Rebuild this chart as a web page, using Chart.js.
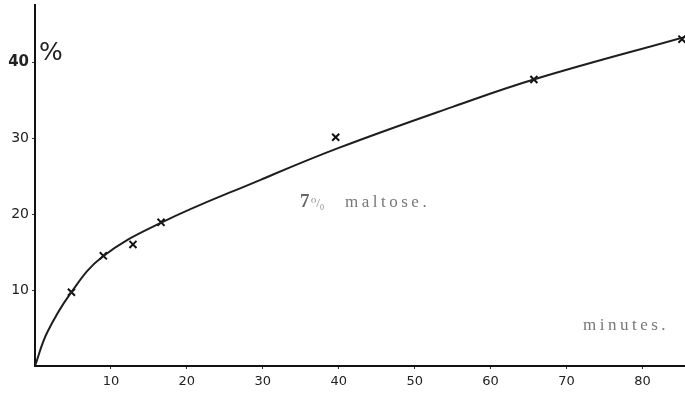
<!DOCTYPE html>
<html lang="en">
<head>
    <meta charset="UTF-8">
    <title>Maltose hydrolysis</title>
    <script src="https://cdn.jsdelivr.net/npm/chart.js@4.4.0/dist/chart.umd.min.js"></script>
    <style>
        * {
            margin: 0;
            padding: 0;
            box-sizing: border-box;
        }

        body {
            background-color: #ffffff;
        }

        .chart-container {
            width: 685px;
            height: 393px;
            position: relative;
        }
    </style>
</head>
<body>
    <div class="chart-container">
        <canvas id="maltoseChart"></canvas>
    </div>

    <script>
        // observed values (minutes, % hydrolysed)
        const obsMinutes = [4.8, 9.0, 12.9, 16.6, 39.6, 65.7, 85.2];
        const obsPercent = [9.7, 14.5, 16.0, 18.9, 30.1, 37.7, 43.0];

        // smooth curve drawn through the observations
        const curveMinutes = [0, 1.6, 4.7, 8.8, 16.5, 29.7, 40, 55, 66, 85.6];
        const curvePercent = [0, 4.4, 9.6, 14.3, 18.8, 24.5, 28.7, 34.1, 37.8, 43.3];

        const xTicks = [10, 20, 30, 40, 50, 60, 70, 80];
        const yTicks = [10, 20, 30, 40];

        const handFont = "'DejaVu Sans', sans-serif";
        const printFont = "'Liberation Serif', 'DejaVu Serif', serif";

        // labels printed inside the plot
        const notesPlugin = {
            id: 'notes',
            afterDraw(chart) {
                const ctx = chart.ctx;
                ctx.save();
                ctx.textBaseline = 'alphabetic';

                ctx.fillStyle = '#222';
                ctx.font = '25px ' + handFont;
                ctx.fillText('%', 39, 60);

                ctx.fillStyle = '#666';
                ctx.font = 'bold 19px ' + printFont;
                ctx.fillText('7', 300, 207);
                ctx.fillStyle = '#888';
                ctx.font = '13px ' + printFont;
                ctx.fillText('⁰/₀', 311, 207);

                ctx.fillStyle = '#777';
                ctx.font = '17px ' + printFont;
                ctx.letterSpacing = '3.5px';
                ctx.fillText('maltose.', 345, 207);
                ctx.fillText('minutes.', 583, 330);
                ctx.restore();
            }
        };

        function noPadding(scale) {
            scale.paddingLeft = 0;
            scale.paddingRight = 0;
            scale.paddingTop = 0;
            scale.paddingBottom = 0;
        }

        const ctx = document.getElementById('maltoseChart').getContext('2d');

        new Chart(ctx, {
            type: 'scatter',
            data: {
                datasets: [
                    {
                        label: 'curve',
                        data: curveMinutes.map((m, i) => ({ x: m, y: curvePercent[i] })),
                        showLine: true,
                        borderColor: '#1e1e1e',
                        borderWidth: 2,
                        pointRadius: 0,
                        tension: 0.4
                    },
                    {
                        label: 'observed',
                        data: obsMinutes.map((m, i) => ({ x: m, y: obsPercent[i] })),
                        showLine: false,
                        pointStyle: 'crossRot',
                        pointRadius: 5,
                        borderColor: '#111',
                        borderWidth: 2,
                        clip: false
                    }
                ]
            },
            options: {
                responsive: true,
                maintainAspectRatio: false,
                animation: false,
                layout: {
                    autoPadding: false,
                    padding: { top: 5, right: 0, left: 0, bottom: 0 }
                },
                plugins: {
                    legend: { display: false },
                    tooltip: { enabled: false }
                },
                scales: {
                    x: {
                        type: 'linear',
                        min: 0,
                        max: 85.6,
                        afterFit(scale) {
                            scale.height = 27;
                            noPadding(scale);
                        },
                        afterBuildTicks(scale) {
                            scale.ticks = xTicks.map(v => ({ value: v }));
                        },
                        border: { color: '#111', width: 2 },
                        grid: { drawOnChartArea: false, tickLength: 3, color: '#333' },
                        ticks: {
                            padding: 5,
                            color: '#222',
                            font: { family: handFont, size: 13 }
                        }
                    },
                    y: {
                        type: 'linear',
                        min: 0,
                        max: 47.5,
                        afterFit(scale) {
                            scale.width = 35;
                            noPadding(scale);
                        },
                        afterBuildTicks(scale) {
                            scale.ticks = yTicks.map(v => ({ value: v }));
                        },
                        border: { color: '#111', width: 2 },
                        grid: { drawOnChartArea: false, tickLength: 3, color: '#333' },
                        ticks: {
                            padding: 3,
                            color: '#222',
                            font: (c) => ({
                                family: handFont,
                                size: c.tick && c.tick.value === 40 ? 15 : 14,
                                weight: c.tick && c.tick.value === 40 ? 'bold' : 'normal'
                            })
                        }
                    }
                }
            },
            plugins: [notesPlugin]
        });
    </script>
</body>
</html>
